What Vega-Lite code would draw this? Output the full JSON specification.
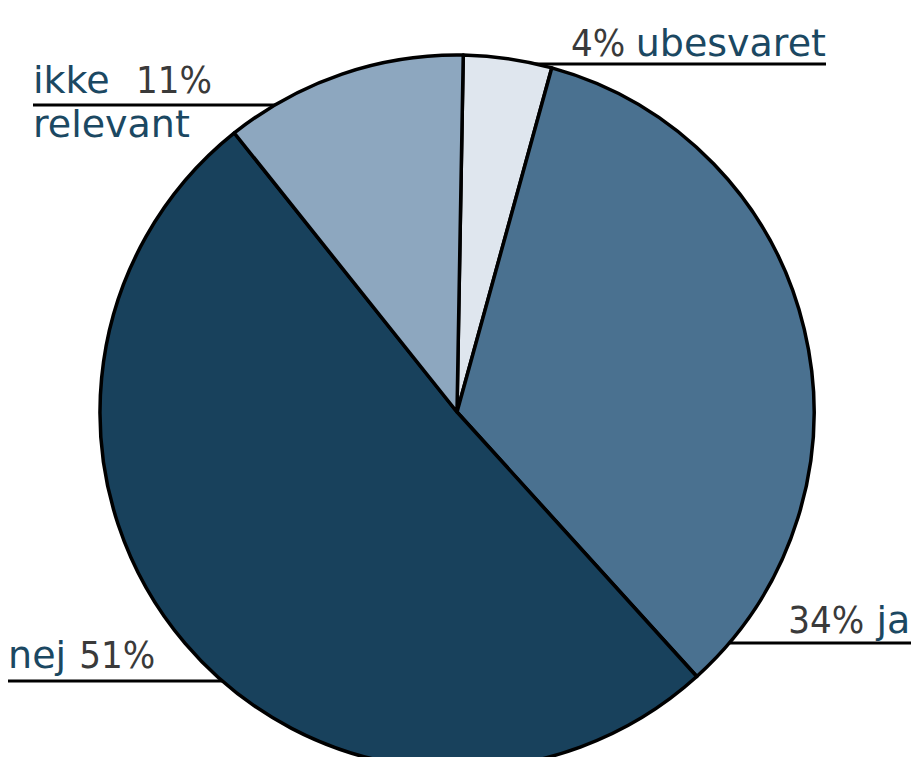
{
  "$schema": "https://vega.github.io/schema/vega-lite/v6.json",
  "width": 914,
  "height": 824,
  "autosize": {"type": "none"},
  "padding": 0,
  "background": "white",
  "config": {"view": {"stroke": null}, "text": {"font": "DejaVu Sans", "fontSize": 38}},
  "data": {"values": [
    {"svar": "ubesvaret", "pct": 4, "rank": 1},
    {"svar": "ja", "pct": 34, "rank": 2},
    {"svar": "nej", "pct": 51, "rank": 3},
    {"svar": "ikke relevant", "pct": 11, "rank": 4}
  ]},
  "layer": [
    {"transform": [{"filter": "datum.svar === 'ubesvaret'"}], "mark": {"type": "rule", "stroke": "#000", "strokeWidth": 3},
     "encoding": {"x": {"value": 530}, "x2": {"value": 826}, "y": {"value": 64}}},
    {"transform": [{"filter": "datum.svar === 'ikke relevant'"}], "mark": {"type": "rule", "stroke": "#000", "strokeWidth": 3},
     "encoding": {"x": {"value": 33}, "x2": {"value": 290}, "y": {"value": 105}}},
    {"transform": [{"filter": "datum.svar === 'ja'"}], "mark": {"type": "rule", "stroke": "#000", "strokeWidth": 3},
     "encoding": {"x": {"value": 710}, "x2": {"value": 911}, "y": {"value": 643}}},
    {"transform": [{"filter": "datum.svar === 'nej'"}], "mark": {"type": "rule", "stroke": "#000", "strokeWidth": 3},
     "encoding": {"x": {"value": 8}, "x2": {"value": 240}, "y": {"value": 681}}},
    {
      "mark": {"type": "arc", "radius": 357, "stroke": "#000", "strokeWidth": 3.5, "strokeJoin": "round"},
      "encoding": {
        "theta": {"field": "pct", "type": "quantitative", "stack": true, "scale": {"domain": [0, 100], "range": [0.0175, 6.3007]}},
        "order": {"field": "rank", "type": "quantitative"},
        "color": {"field": "svar", "type": "nominal", "legend": null,
          "scale": {"domain": ["ubesvaret", "ja", "nej", "ikke relevant"], "range": ["#dfe6ee", "#4a7190", "#18415c", "#8da7bf"]}}
      }
    },
    {"mark": {"type": "text", "radius": 357, "align": "left", "baseline": "alphabetic", "dx": 63, "dy": -3, "color": "#3a3a3a", "font": "DejaVu Sans Condensed"},
     "encoding": {"theta": {"field": "pct", "type": "quantitative", "stack": true, "scale": {"domain": [0, 100], "range": [0.0175, 6.3007]}},
       "order": {"field": "rank", "type": "quantitative"},
       "text": {"condition": {"test": "datum.svar === 'ubesvaret'", "value": "4%"}, "value": ""}}},
    {"mark": {"type": "text", "radius": 357, "align": "right", "baseline": "alphabetic", "dx": 318, "dy": -3, "color": "#1b4862"},
     "encoding": {"theta": {"field": "pct", "type": "quantitative", "stack": true, "scale": {"domain": [0, 100], "range": [0.0175, 6.3007]}},
       "order": {"field": "rank", "type": "quantitative"},
       "text": {"condition": {"test": "datum.svar === 'ubesvaret'", "value": "ubesvaret"}, "value": ""}}},
    {"mark": {"type": "text", "radius": 357, "align": "left", "baseline": "alphabetic", "dx": -16, "dy": 304, "color": "#3a3a3a", "font": "DejaVu Sans Condensed"},
     "encoding": {"theta": {"field": "pct", "type": "quantitative", "stack": true, "scale": {"domain": [0, 100], "range": [0.0175, 6.3007]}},
       "order": {"field": "rank", "type": "quantitative"},
       "text": {"condition": {"test": "datum.svar === 'ja'", "value": "34%"}, "value": ""}}},
    {"mark": {"type": "text", "radius": 357, "align": "right", "baseline": "alphabetic", "dx": 106, "dy": 304, "color": "#1b4862"},
     "encoding": {"theta": {"field": "pct", "type": "quantitative", "stack": true, "scale": {"domain": [0, 100], "range": [0.0175, 6.3007]}},
       "order": {"field": "rank", "type": "quantitative"},
       "text": {"condition": {"test": "datum.svar === 'ja'", "value": "ja"}, "value": ""}}},
    {"mark": {"type": "text", "radius": 357, "align": "left", "baseline": "alphabetic", "dx": -177, "dy": 25, "color": "#1b4862"},
     "encoding": {"theta": {"field": "pct", "type": "quantitative", "stack": true, "scale": {"domain": [0, 100], "range": [0.0175, 6.3007]}},
       "order": {"field": "rank", "type": "quantitative"},
       "text": {"condition": {"test": "datum.svar === 'nej'", "value": "nej"}, "value": ""}}},
    {"mark": {"type": "text", "radius": 357, "align": "right", "baseline": "alphabetic", "dx": -30, "dy": 25, "color": "#3a3a3a", "font": "DejaVu Sans Condensed"},
     "encoding": {"theta": {"field": "pct", "type": "quantitative", "stack": true, "scale": {"domain": [0, 100], "range": [0.0175, 6.3007]}},
       "order": {"field": "rank", "type": "quantitative"},
       "text": {"condition": {"test": "datum.svar === 'nej'", "value": "51%"}, "value": ""}}},
    {"mark": {"type": "text", "radius": 357, "align": "left", "baseline": "alphabetic", "dx": -309, "dy": 19, "color": "#1b4862"},
     "encoding": {"theta": {"field": "pct", "type": "quantitative", "stack": true, "scale": {"domain": [0, 100], "range": [0.0175, 6.3007]}},
       "order": {"field": "rank", "type": "quantitative"},
       "text": {"condition": {"test": "datum.svar === 'ikke relevant'", "value": "ikke"}, "value": ""}}},
    {"mark": {"type": "text", "radius": 357, "align": "right", "baseline": "alphabetic", "dx": -130, "dy": 19, "color": "#3a3a3a", "font": "DejaVu Sans Condensed"},
     "encoding": {"theta": {"field": "pct", "type": "quantitative", "stack": true, "scale": {"domain": [0, 100], "range": [0.0175, 6.3007]}},
       "order": {"field": "rank", "type": "quantitative"},
       "text": {"condition": {"test": "datum.svar === 'ikke relevant'", "value": "11%"}, "value": ""}}},
    {"mark": {"type": "text", "radius": 357, "align": "left", "baseline": "alphabetic", "dx": -309, "dy": 63, "color": "#1b4862"},
     "encoding": {"theta": {"field": "pct", "type": "quantitative", "stack": true, "scale": {"domain": [0, 100], "range": [0.0175, 6.3007]}},
       "order": {"field": "rank", "type": "quantitative"},
       "text": {"condition": {"test": "datum.svar === 'ikke relevant'", "value": "relevant"}, "value": ""}}}
  ]
}
